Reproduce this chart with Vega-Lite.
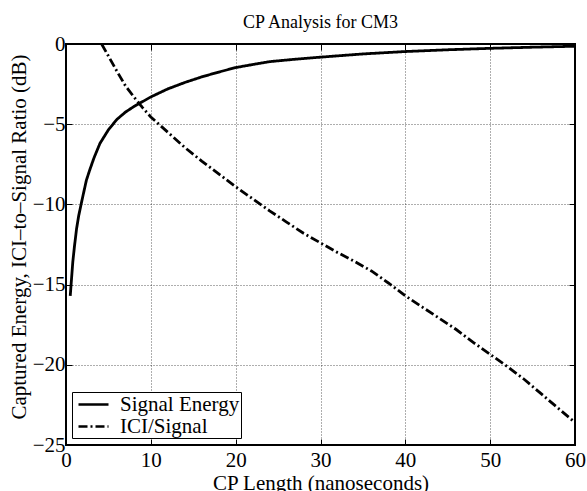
{
  "$schema": "https://vega.github.io/schema/vega-lite/v6.json",
  "width": 509,
  "height": 401,
  "autosize": {"type": "none"},
  "padding": {"left": 66, "top": 44, "right": 12, "bottom": 46},
  "background": "white",
  "title": {"text": "CP Analysis for CM3", "font": "Liberation Serif", "fontSize": 18, "fontWeight": "normal", "color": "black", "baseline": "alphabetic", "offset": 17, "dy": 30, "anchor": "middle", "frame": "group"},
  "config": {
    "view": {"stroke": "black", "strokeWidth": 2},
    "axis": {"labelFont": "Liberation Serif", "titleFont": "Liberation Serif", "labelColor": "black", "titleColor": "black", "labelFontSize": 21, "titleFontSize": 21, "titleFontWeight": "normal", "domain": false, "tickColor": "black", "tickWidth": 1, "tickSize": -6, "gridColor": "black", "gridDash": [1, 2], "gridWidth": 0.8, "gridOpacity": 0.8}
  },
  "data": {"values": [
    {"x": 0.5, "y": -15.7, "series": "Signal Energy"},
    {"x": 0.6, "y": -15.0, "series": "Signal Energy"},
    {"x": 0.8, "y": -13.6, "series": "Signal Energy"},
    {"x": 1.0, "y": -12.6, "series": "Signal Energy"},
    {"x": 1.25, "y": -11.5, "series": "Signal Energy"},
    {"x": 1.5, "y": -10.7, "series": "Signal Energy"},
    {"x": 1.9, "y": -9.7, "series": "Signal Energy"},
    {"x": 2.4, "y": -8.5, "series": "Signal Energy"},
    {"x": 2.8, "y": -7.85, "series": "Signal Energy"},
    {"x": 3.3, "y": -7.1, "series": "Signal Energy"},
    {"x": 4.0, "y": -6.2, "series": "Signal Energy"},
    {"x": 5.0, "y": -5.35, "series": "Signal Energy"},
    {"x": 6.0, "y": -4.7, "series": "Signal Energy"},
    {"x": 7.0, "y": -4.25, "series": "Signal Energy"},
    {"x": 8.0, "y": -3.9, "series": "Signal Energy"},
    {"x": 9.0, "y": -3.6, "series": "Signal Energy"},
    {"x": 10, "y": -3.3, "series": "Signal Energy"},
    {"x": 12, "y": -2.8, "series": "Signal Energy"},
    {"x": 14, "y": -2.4, "series": "Signal Energy"},
    {"x": 16, "y": -2.05, "series": "Signal Energy"},
    {"x": 18, "y": -1.75, "series": "Signal Energy"},
    {"x": 20, "y": -1.47, "series": "Signal Energy"},
    {"x": 22, "y": -1.28, "series": "Signal Energy"},
    {"x": 24, "y": -1.1, "series": "Signal Energy"},
    {"x": 27, "y": -0.95, "series": "Signal Energy"},
    {"x": 30, "y": -0.82, "series": "Signal Energy"},
    {"x": 35, "y": -0.62, "series": "Signal Energy"},
    {"x": 40, "y": -0.47, "series": "Signal Energy"},
    {"x": 45, "y": -0.36, "series": "Signal Energy"},
    {"x": 50, "y": -0.27, "series": "Signal Energy"},
    {"x": 55, "y": -0.2, "series": "Signal Energy"},
    {"x": 60, "y": -0.14, "series": "Signal Energy"},
    {"x": 4.2, "y": 0, "series": "ICI/Signal"},
    {"x": 5, "y": -0.75, "series": "ICI/Signal"},
    {"x": 6, "y": -1.7, "series": "ICI/Signal"},
    {"x": 7, "y": -2.6, "series": "ICI/Signal"},
    {"x": 8, "y": -3.3, "series": "ICI/Signal"},
    {"x": 9, "y": -3.95, "series": "ICI/Signal"},
    {"x": 10, "y": -4.55, "series": "ICI/Signal"},
    {"x": 12, "y": -5.5, "series": "ICI/Signal"},
    {"x": 14, "y": -6.45, "series": "ICI/Signal"},
    {"x": 16, "y": -7.3, "series": "ICI/Signal"},
    {"x": 18, "y": -8.1, "series": "ICI/Signal"},
    {"x": 20, "y": -8.9, "series": "ICI/Signal"},
    {"x": 22, "y": -9.65, "series": "ICI/Signal"},
    {"x": 24, "y": -10.4, "series": "ICI/Signal"},
    {"x": 26, "y": -11.1, "series": "ICI/Signal"},
    {"x": 28, "y": -11.8, "series": "ICI/Signal"},
    {"x": 30, "y": -12.4, "series": "ICI/Signal"},
    {"x": 32, "y": -13.0, "series": "ICI/Signal"},
    {"x": 34, "y": -13.55, "series": "ICI/Signal"},
    {"x": 36, "y": -14.15, "series": "ICI/Signal"},
    {"x": 38, "y": -14.9, "series": "ICI/Signal"},
    {"x": 40, "y": -15.7, "series": "ICI/Signal"},
    {"x": 42, "y": -16.4, "series": "ICI/Signal"},
    {"x": 44, "y": -17.1, "series": "ICI/Signal"},
    {"x": 46, "y": -17.8, "series": "ICI/Signal"},
    {"x": 48, "y": -18.6, "series": "ICI/Signal"},
    {"x": 50, "y": -19.35, "series": "ICI/Signal"},
    {"x": 52, "y": -20.1, "series": "ICI/Signal"},
    {"x": 54, "y": -20.9, "series": "ICI/Signal"},
    {"x": 56, "y": -21.8, "series": "ICI/Signal"},
    {"x": 58, "y": -22.7, "series": "ICI/Signal"},
    {"x": 60, "y": -23.6, "series": "ICI/Signal"}
  ]},
  "layer": [
    {
      "mark": {"type": "line", "color": "black", "strokeWidth": 2.8, "clip": true},
      "encoding": {
        "x": {"field": "x", "type": "quantitative", "scale": {"domain": [0, 60], "nice": false},
          "axis": {"values": [0, 10, 20, 30, 40, 50, 60], "labelPadding": 10, "labelFlush": false, "title": "CP Length (nanoseconds)", "titleBaseline": "alphabetic", "titleY": 44, "titleX": 254.5, "titleAnchor": "middle", "titleAlign": "center"}},
        "y": {"field": "y", "type": "quantitative", "scale": {"domain": [-25, 0], "nice": false},
          "axis": {"values": [-25, -20, -15, -10, -5, 0], "labelPadding": 7, "labelFlush": false, "title": "Captured Energy, ICI–to–Signal Ratio (dB)", "titleAngle": -90, "titleBaseline": "alphabetic", "titleX": -40.5, "titleY": 192.5, "titleAlign": "center"}},
        "strokeDash": {"field": "series", "type": "nominal",
          "scale": {"domain": ["Signal Energy", "ICI/Signal"], "range": [[1, 0], [9, 3, 2, 3]]},
          "legend": {"title": null, "orient": "none", "legendX": 6, "legendY": 348, "strokeColor": "black", "fillColor": "white", "padding": 1, "labelFont": "Liberation Serif", "labelFontSize": 21, "labelColor": "black", "symbolType": "M-1.5,0H1.5", "symbolSize": 400, "symbolStrokeWidth": 2.5, "symbolStrokeColor": "black", "symbolOffset": 9, "labelOffset": 15, "rowPadding": 0}}
      }
    },
    {
      "mark": {"type": "line", "opacity": 0},
      "encoding": {
        "x": {"field": "x", "type": "quantitative", "axis": {"orient": "top", "values": [0, 10, 20, 30, 40, 50, 60], "labels": false, "grid": false, "title": null}},
        "y": {"field": "y", "type": "quantitative", "axis": {"orient": "right", "values": [-25, -20, -15, -10, -5, 0], "labels": false, "grid": false, "title": null}},
        "detail": {"field": "series"}
      }
    }
  ],
  "resolve": {"axis": {"x": "independent", "y": "independent"}}
}
